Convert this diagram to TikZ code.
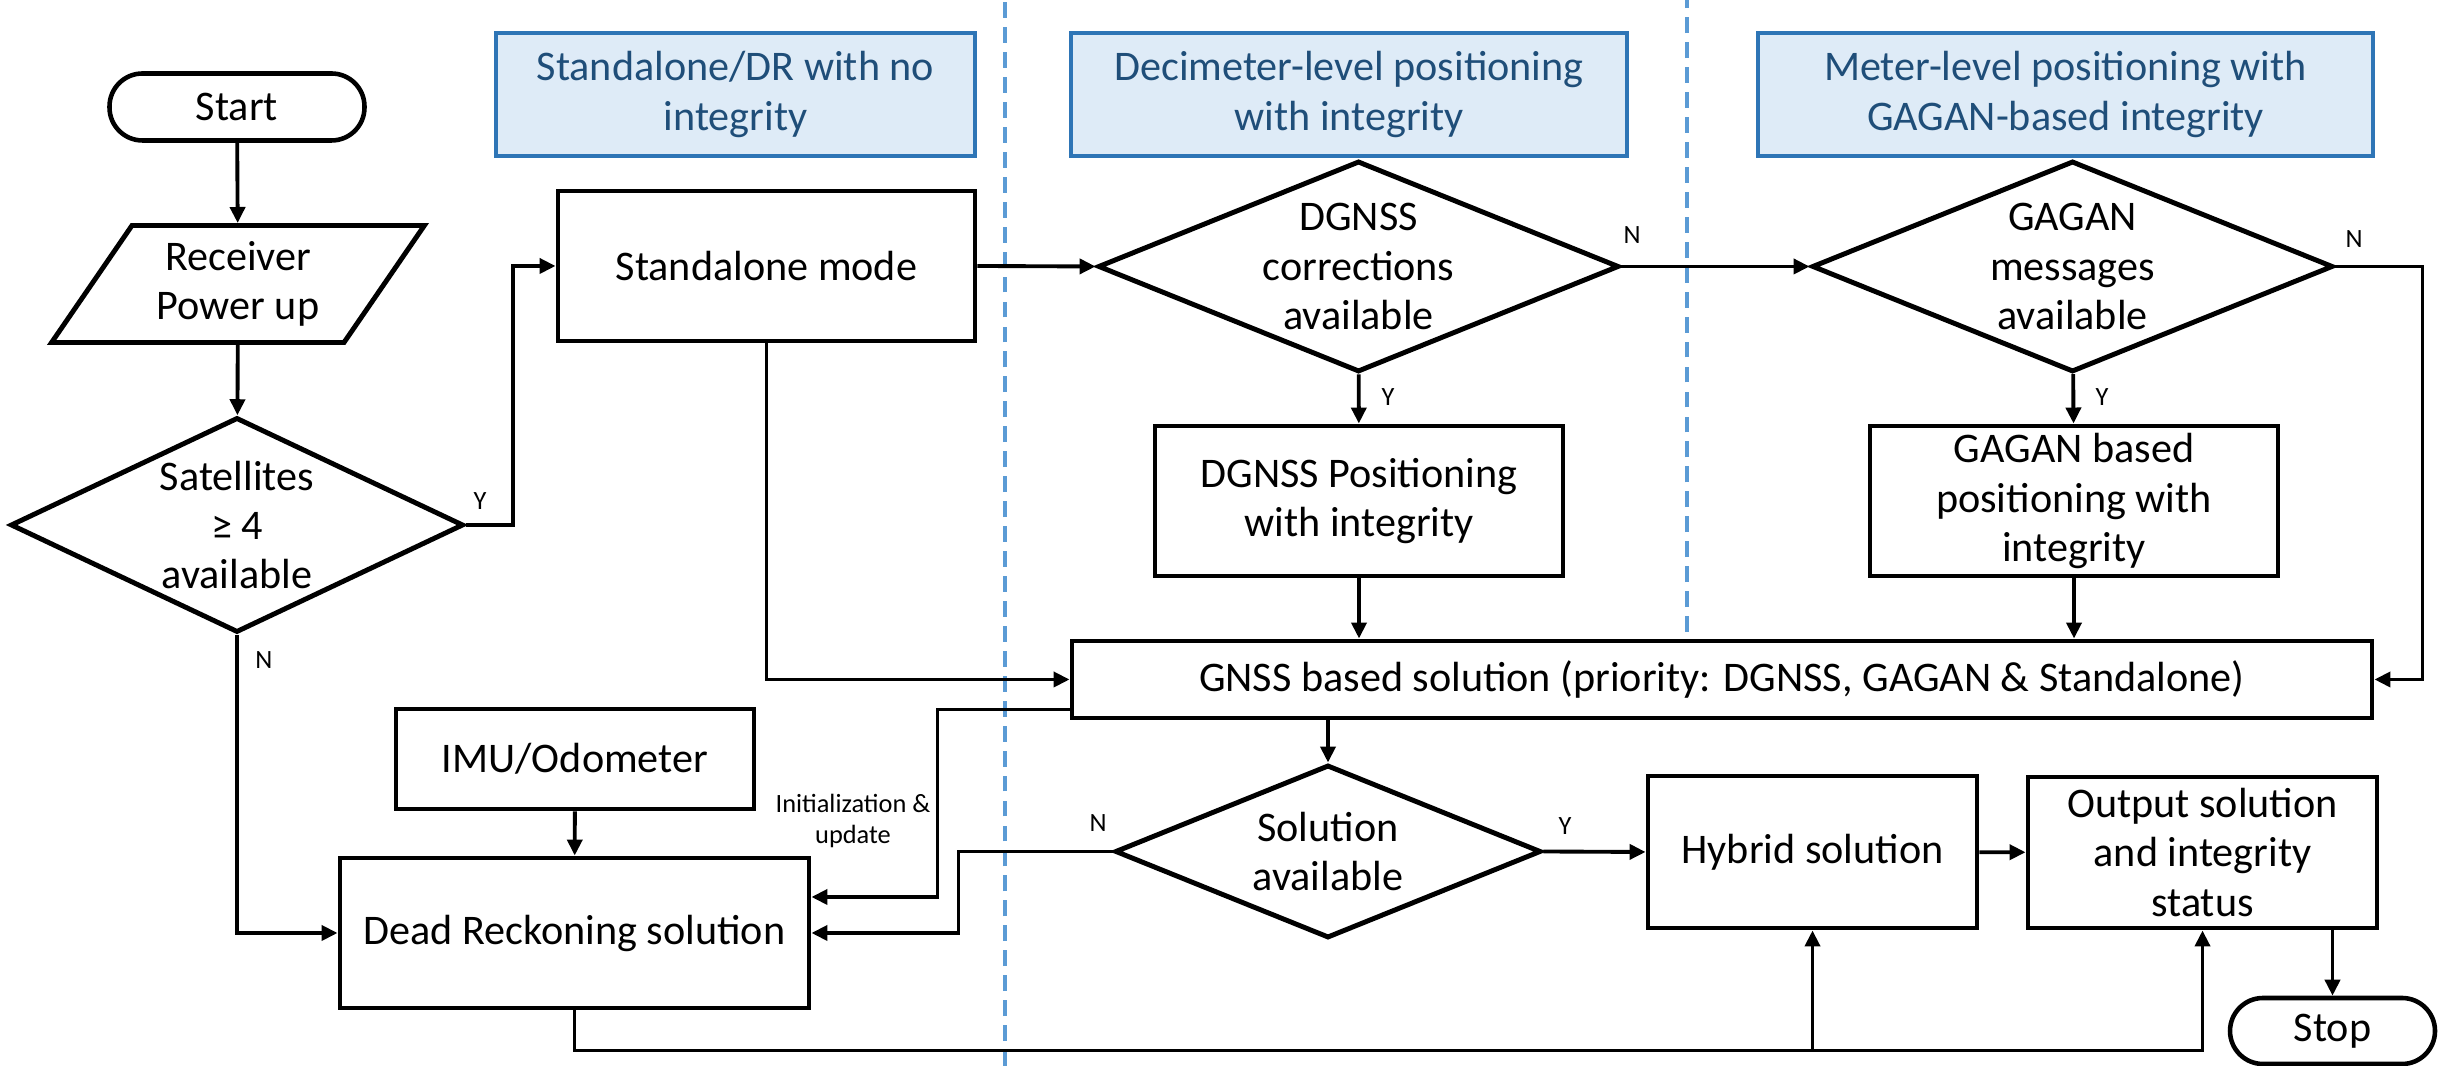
\documentclass[tikz,border=0pt]{standalone}
\usepackage{fontspec}
\setmainfont{Carlito}
\usetikzlibrary{arrows.meta,positioning,shapes.geometric}
\definecolor{hdrfill}{HTML}{DEEBF7}
\definecolor{hdrline}{HTML}{2E75B6}
\definecolor{hdrtext}{HTML}{1F4E79}
\definecolor{divline}{HTML}{5B9BD5}

\begin{document}
\begin{tikzpicture}[
        every node/.style={font=\fontsize{12}{14}\selectfont, align=center},
        box/.style={rectangle, draw, line width=1.4pt, inner sep=1pt},
        decision/.style={diamond, draw, line width=1.4pt, inner xsep=-0.5cm, inner ysep=-0.4cm},
        terminal/.style={rectangle, rounded corners=0.33cm, draw, line width=1.3pt, minimum width=2.55cm, minimum height=0.67cm},
        io/.style={trapezium, trapezium left angle=57, trapezium right angle=123, trapezium stretches=true, draw, line width=1.4pt},
        header/.style={rectangle, draw=hdrline, fill=hdrfill, line width=1.2pt, text=hdrtext, minimum height=1.23cm},
        yn/.style={font=\fontsize{7.5}{9}\selectfont},
        flow/.style={-{Triangle[length=0.16cm,width=0.15cm]}, line width=1.1pt},
        divider/.style={draw=divline, line width=0.9pt, dash pattern=on 4.5pt off 2.6pt}
      ]
      \useasboundingbox (0,0) rectangle (24.45,10.66);
      % column dividers
      \draw[divider] (10.05,0) -- (10.05,10.66);
      \draw[divider] (16.87,4.34) -- (16.87,10.66);

      % headers
      \node[header, minimum width=4.79cm] (hdrsa) at (7.355,9.715) {Standalone/DR with no\\integrity};
      \node[header, minimum width=5.56cm] (hdrdm) at (13.49,9.715) {Decimeter-level positioning\\with integrity};
      \node[header, minimum width=6.15cm] (hdrm) at (20.655,9.715) {Meter-level positioning with\\GAGAN-based integrity};

      % left column
      \node[terminal] (start) at (2.37,9.59) {Start};
      \node[io, minimum width=3.75cm, minimum height=1.17cm] (recv) at (2.38,7.82) {Receiver\\Power up};
      \node[decision, minimum width=4.53cm, minimum height=2.15cm] (sat) at (2.37,5.41) {Satellites\\≥ 4\\available};
      \node[box, minimum width=4.17cm, minimum height=1.50cm] (stand) at (7.665,8.00) {Standalone mode};
      \node[box, minimum width=3.58cm, minimum height=1.00cm] (imu) at (5.75,3.07) {IMU/Odometer};
      \node[box, minimum width=4.69cm, minimum height=1.50cm] (dr) at (5.745,1.33) {Dead Reckoning solution};

      % integrity columns
      \node[decision, minimum width=5.21cm, minimum height=2.11cm] (dgnss) at (13.585,7.995) {DGNSS\\corrections\\available};
      \node[box, minimum width=4.08cm, minimum height=1.50cm] (dgpos) at (13.59,5.65) {DGNSS Positioning\\with integrity};
      \node[decision, minimum width=5.21cm, minimum height=2.11cm] (gagan) at (20.725,7.995) {GAGAN\\messages\\available};
      \node[box, minimum width=4.08cm, minimum height=1.50cm] (gapos) at (20.74,5.65) {GAGAN based\\positioning with\\integrity};
      \node[box, minimum width=13.0cm, minimum height=0.77cm] (gnss) at (17.22,3.865) {GNSS based solution (priority: DGNSS, GAGAN \& Standalone)};

      % bottom row
      \node[decision, minimum width=4.26cm, minimum height=1.73cm] (avail) at (13.28,2.145) {Solution\\available};
      \node[box, minimum width=3.29cm, minimum height=1.52cm] (hybrid) at (18.125,2.14) {Hybrid solution};
      \node[box, minimum width=3.49cm, minimum height=1.51cm] (output) at (22.025,2.135) {Output solution\\and integrity\\status};
      \node[terminal, minimum width=2.05cm, minimum height=0.66cm] (stop) at (23.325,0.35) {Stop};

      % connectors
      \draw[flow] (start) -- (recv);
      \draw[flow] (recv) -- (sat);
      \draw[flow] (sat.east) -- ++(0.47,0) |- (stand.west);
      \node[yn] at (4.80,5.65) {Y};
      \draw[flow] (sat.south) |- (dr.west);
      \node[yn] at (2.64,4.06) {N};
      \draw[flow] (imu) -- (dr);
      \draw[flow] (stand.east) -- (dgnss.west);
      \draw[flow] (dgnss.east) -- (gagan.west);
      \node[yn] at (16.32,8.31) {N};
      \draw[flow] (dgnss) -- (dgpos);
      \node[yn] at (13.88,6.69) {Y};
      \draw[flow] (gagan) -- (gapos);
      \node[yn] at (21.02,6.69) {Y};
      \draw[flow] (gagan.east) -- ++(0.87,0) |- (gnss.east);
      \node[yn] at (23.54,8.27) {N};
      \draw[flow] (dgpos) -- (dgpos |- gnss.north);
      \draw[flow] (gapos) -- (gapos |- gnss.north);
      \draw[flow] (stand.south) |- (gnss.west);
      \draw[flow] ([yshift=-0.3cm]gnss.west) -- ++(-1.32,0) |- ([yshift=0.36cm]dr.east);
      \node[yn] (initlbl) at (8.53,2.45) {Initialization \&\\update};
      \draw[flow] (avail.north |- gnss.south) -- (avail.north);
      \draw[flow] (avail.west) -- ++(-1.54,0) |- (dr.east);
      \node[yn] at (10.98,2.43) {N};
      \draw[flow] (avail.east) -- (hybrid.west);
      \node[yn] at (15.65,2.40) {Y};
      \draw[flow] (hybrid) -- (output);
      \draw[flow] (stop.north |- output.south) -- (stop.north);
      \draw[flow] (dr.south) -- ++(0,-0.40) coordinate (bus) -| (output.south);
      \draw[flow] (bus -| hybrid.south) -- (hybrid.south);
    \end{tikzpicture}
\end{document}
